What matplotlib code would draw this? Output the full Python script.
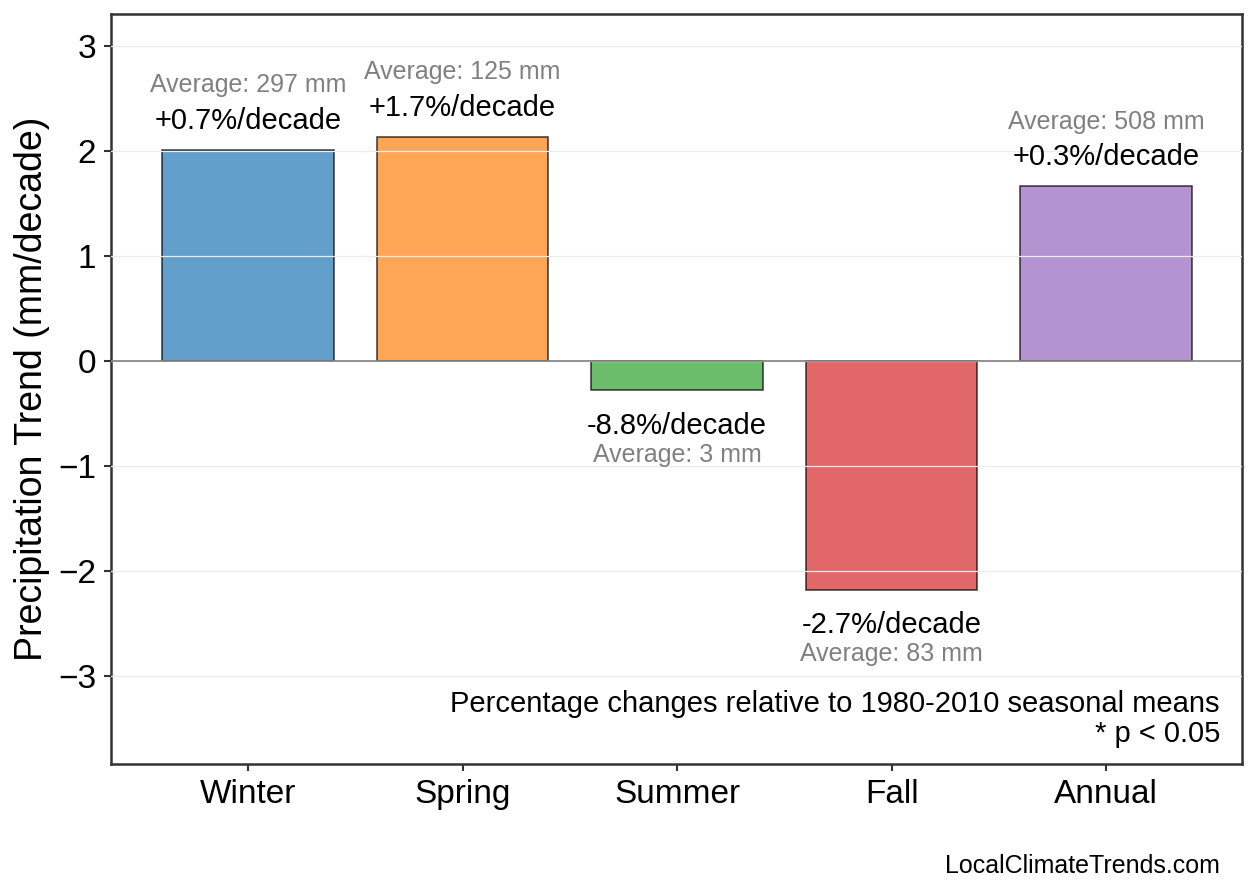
import matplotlib
matplotlib.use("Agg")
import matplotlib.pyplot as plt

plt.rcParams['font.family'] = ['Liberation Sans', 'DejaVu Sans']

seasons = ["Winter", "Spring", "Summer", "Fall", "Annual"]
trends = [2.01, 2.13, -0.28, -2.18, 1.66]
pct_labels = ["+0.7%/decade", "+1.7%/decade", "-8.8%/decade", "-2.7%/decade", "+0.3%/decade"]
averages = [297, 125, 3, 83, 508]
colors = ["#1f77b4", "#ff7f0e", "#2ca02c", "#d62728", "#9467bd"]

fig = plt.figure(figsize=(1258 / 150, 893 / 150), dpi=150)
ax = fig.add_axes([0.0882, 0.1445, 0.8991, 0.8398])

x = range(len(seasons))
bars = ax.bar(x, trends, width=0.8, color=colors, alpha=0.7,
              edgecolor="black", linewidth=0.8, zorder=2)
for b in bars:
    b.set_edgecolor((0, 0, 0, 0.75))

ax.axhline(0, color="#808080", linewidth=0.8, zorder=3)
ax.set_axisbelow(False)
ax.yaxis.grid(True, color="#ececec", linewidth=0.6, zorder=3)

for xi, val, lab, avg in zip(x, trends, pct_labels, averages):
    if val >= 0:
        off1, off2 = 10, 27.6
    else:
        off1, off2 = -21, -34.5
    ax.annotate(lab, (xi, val), xytext=(0, off1), textcoords="offset points",
                ha="center", va="baseline", fontsize=14, color="black")
    ax.annotate(f"Average: {avg} mm", (xi, val), xytext=(0, off2),
                textcoords="offset points", ha="center", va="baseline",
                fontsize=12, color="#808080")

ax.set_xticks(list(x))
ax.set_xticklabels(seasons, fontsize=16)
ax.set_yticks(range(-3, 4))
ax.tick_params(axis="y", labelsize=16)
ax.tick_params(colors="#333333", labelcolor="black", length=3.5, width=1)
ax.set_ylim(-3.84, 3.30)
ax.set_xlim(-0.64, 4.634)
ax.set_ylabel("Precipitation Trend (mm/decade)", fontsize=18)

for s in ax.spines.values():
    s.set_color("#333333")
    s.set_linewidth(1.2)

ax.text(0.9805, 0.021, "Percentage changes relative to 1980-2010 seasonal means\n* p < 0.05",
        transform=ax.transAxes, ha="right", va="bottom", fontsize=14,
        multialignment="right", linespacing=1.1)

fig.text(0.9698, 0.017, "LocalClimateTrends.com", ha="right", va="bottom", fontsize=12)

fig.savefig("out.png", dpi=150)
